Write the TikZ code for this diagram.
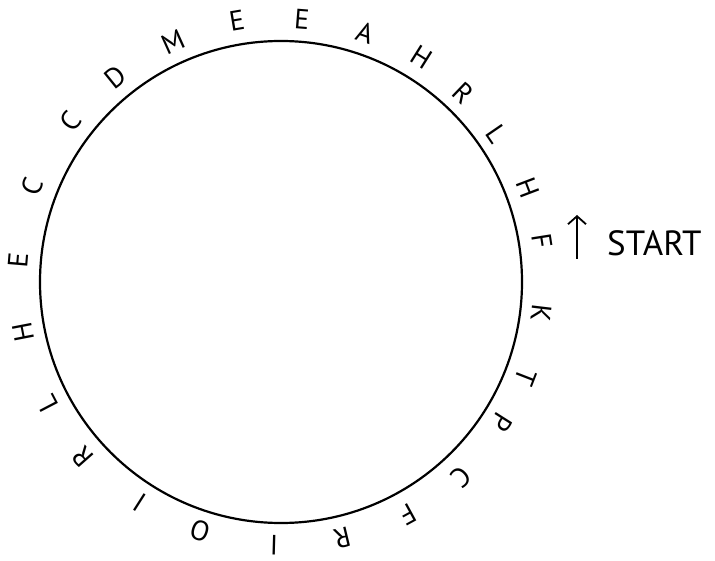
\documentclass[tikz,border=0pt]{standalone}
\usepackage{fontspec}
\setmainfont{PT Sans}
\usetikzlibrary{arrows.meta}
\begin{document}
\begin{tikzpicture}[x=1pt,y=-1pt,
  letter/.style={inner sep=0pt,font=\fontsize{28}{28}\selectfont},
  ring/.style={draw,circle,line width=2.2pt,inner sep=0pt,minimum size=482pt},
  label/.style={inner sep=0pt,anchor=west,font=\fontsize{35}{35}\selectfont},
  uparrow/.style={line width=1.8pt,-{Straight Barb[length=8pt,width=18pt,line width=1.8pt]}}]
\useasboundingbox (0,0) rectangle (715,561);
\node[ring] (ring) at (281,282) {};
\foreach \x/\y/\l [count=\i] in {173/42/M,237/21/E,302/19/E,365/33/A,422/57/H,463/93/R,497/134/L,528/188/H,542/241/F,541/313/K,526/377/T,502/422/P,461/477/C,408/515/F,342/538/R,274/545/I,200/531/O,140/503/I,83/457/R,47/404/L,23/332/H,18/260/E,32/187/C,71/121/C,115/77/D}{
  \pgfmathsetmacro\rot{atan2(282-\y,\x-281)-90}
  \node[letter,rotate=\rot] (l\i) at (\x,\y) {\l};
}
\coordinate (abot) at (577,259);
\coordinate (atop) at (577,215);
\draw[uparrow] (abot) -- (atop);
\node[label] (start) at (607,243) {START};
\end{tikzpicture}
\end{document}
